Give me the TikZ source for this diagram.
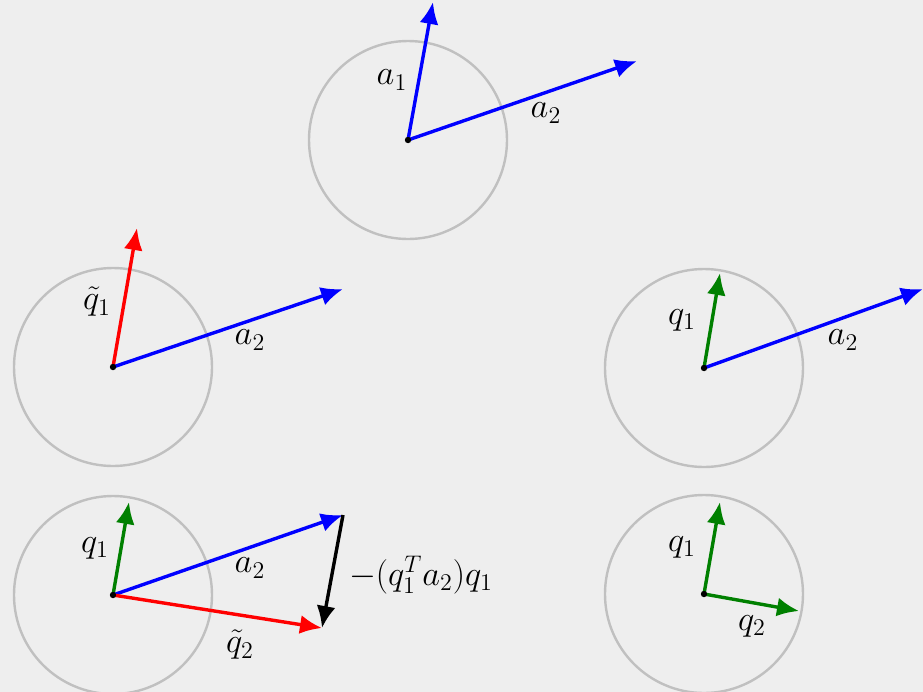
\documentclass[tikz,border=0pt]{standalone}
\usetikzlibrary{arrows.meta}
\definecolor{bg}{HTML}{EEEEEE}
\definecolor{ringgray}{HTML}{C0C0C0}
\definecolor{qgreen}{RGB}{0,128,0}
\begin{document}
\begin{tikzpicture}[x=0.5pt,y=-0.5pt,
  ring/.style={draw=ringgray,line width=1.2pt},
  vec/.style={line width=1.7pt,-{Latex[length=11pt,width=9.5pt]}},
  lbl/.style={font=\fontsize{16.5}{19}\selectfont}]
\fill[bg] (0,0) rectangle (923,692);
\useasboundingbox (0,0) rectangle (923,692);

% circle centres
\coordinate (o1) at (408,140);
\coordinate (o2) at (113,367);
\coordinate (o3) at (704,368);
\coordinate (o4) at (113,595);
\coordinate (o5) at (704,594);
\foreach \c in {o1,o2,o3,o4,o5} {
  \draw[ring] (\c) circle (99);
}

% top: a1, a2
\coordinate (a1t) at (433,2);
\coordinate (a2t) at (637,61);
\draw[vec,blue] (o1) -- (a1t);
\draw[vec,blue] (o1) -- (a2t);
\node[lbl] (la1) at (392,80) {$a_1$};
\node[lbl] (la2) at (546,113) {$a_2$};

% middle left: q1 tilde, a2
\coordinate (qt1) at (137,228);
\coordinate (b2t) at (343,289);
\draw[vec,red] (o2) -- (qt1);
\draw[vec,blue] (o2) -- (b2t);
\node[lbl] (lqt1) at (97,302) {$\tilde q_1$};
\node[lbl] (lb2) at (250,340) {$a_2$};

% middle right: q1, a2
\coordinate (q1m) at (720,273);
\coordinate (c2t) at (923,289);
\draw[vec,qgreen] (o3) -- (q1m);
\draw[vec,blue] (o3) -- (c2t);
\node[lbl] (lq1m) at (682,320) {$q_1$};
\node[lbl] (lc2) at (843,340) {$a_2$};

% bottom left: projection step
\coordinate (q1b) at (129,502);
\coordinate (d2t) at (343,515);
\coordinate (qt2) at (322,628);
\draw[vec,qgreen] (o4) -- (q1b);
\draw[vec,blue] (o4) -- (d2t);
\draw[vec,red] (o4) -- (qt2);
\draw[vec,black] (d2t) -- (qt2);
\node[lbl] (lq1b) at (95,548) {$q_1$};
\node[lbl] (ld2) at (250,568) {$a_2$};
\node[lbl,anchor=west] (lproj) at (342,575) {$-(q_1^T a_2)q_1$};
\node[lbl] (lqt2) at (240,645) {$\tilde q_2$};

% bottom right: q1, q2
\coordinate (q1r) at (720,502);
\coordinate (q2r) at (799,611);
\draw[vec,qgreen] (o5) -- (q1r);
\draw[vec,qgreen] (o5) -- (q2r);
\node[lbl] (lq1r) at (682,547) {$q_1$};
\node[lbl] (lq2r) at (752,626) {$q_2$};

% centre dots
\foreach \c in {o1,o2,o3,o4,o5} {
  \fill (\c) circle (3.2);
}
\end{tikzpicture}
\end{document}
